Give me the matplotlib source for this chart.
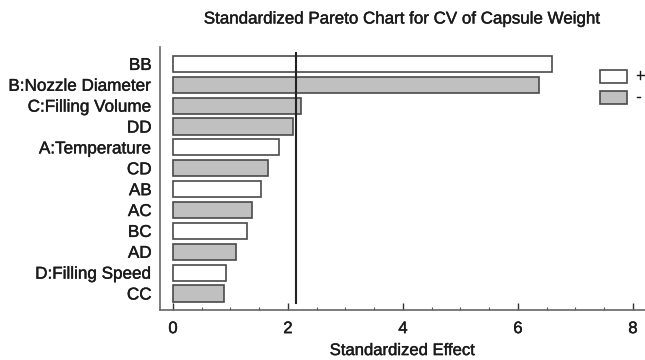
import matplotlib.pyplot as plt
import matplotlib.patheffects as pe
from matplotlib.patches import Rectangle
from matplotlib.ticker import MultipleLocator

plt.rcParams['font.family'] = ['Liberation Sans', 'DejaVu Sans']

# effects listed top to bottom
effects = ['BB', 'B:Nozzle Diameter', 'C:Filling Volume', 'DD', 'A:Temperature',
           'CD', 'AB', 'AC', 'BC', 'AD', 'D:Filling Speed', 'CC']
values = [6.59, 6.37, 2.22, 2.09, 1.85, 1.66, 1.53, 1.37, 1.29, 1.09, 0.93, 0.88]
signs = ['+', '-', '-', '-', '+', '-', '+', '-', '+', '-', '+', '-']
critical = 2.14

POS_COLOR = 'white'
NEG_COLOR = '#c0c0c0'
EDGE = '#4a4a4a'
TEXT = '#1a1a1a'
thick = [pe.withStroke(linewidth=0.3, foreground=TEXT)]

W, H = 645, 360
fig = plt.figure(figsize=(6.45, 3.6), dpi=100)
ax = fig.add_axes([160 / W, 1 - 310 / H, 485 / W, 263 / H])

ypos = list(range(len(effects) - 1, -1, -1))
colors = [POS_COLOR if s == '+' else NEG_COLOR for s in signs]
ax.barh(ypos, values, height=0.77, color=colors, edgecolor=EDGE, linewidth=1.2)
ax.axvline(critical, ymin=0.027, ymax=0.977, color='#222222', linewidth=1.5)

ax.set_xlim(-0.226, 8.21)
ax.set_ylim(-0.79, 11.81)
ax.set_yticks(ypos)
ax.set_yticklabels(effects, fontsize=12.3, color=TEXT)
ax.tick_params(axis='y', length=0, pad=6)

ax.xaxis.set_major_locator(MultipleLocator(2))
ax.xaxis.set_minor_locator(MultipleLocator(0.5))
ax.tick_params(axis='x', which='major', direction='in', length=5, width=1,
               labelsize=12, pad=8, colors='#333333', labelcolor=TEXT)
ax.tick_params(axis='x', which='minor', direction='in', length=2.5, width=0.8,
               colors='#555555')
for lbl in ax.get_xticklabels() + ax.get_yticklabels():
    lbl.set_path_effects(thick)

for side in ['top', 'right']:
    ax.spines[side].set_visible(False)
for side in ['left', 'bottom']:
    ax.spines[side].set_color('#666666')
    ax.spines[side].set_linewidth(1.2)

ax.set_xlabel('Standardized Effect', fontsize=12, color=TEXT, labelpad=5,
              path_effects=thick)
fig.text(402 / W, 1 - 19 / H, 'Standardized Pareto Chart for CV of Capsule Weight',
         ha='center', va='center', fontsize=12.2, color=TEXT, path_effects=thick)

# sign key in the upper right
for (top, sign, color) in [(70, '+', POS_COLOR), (91, '-', NEG_COLOR)]:
    fig.patches.append(Rectangle((600 / W, 1 - (top + 13) / H), 27 / W, 13 / H,
                                 transform=fig.transFigure, facecolor=color,
                                 edgecolor=EDGE, linewidth=1.2))
    fig.text(636 / W, 1 - (top + 6.5) / H, sign, ha='left', va='center',
             fontsize=12, color=TEXT, path_effects=thick)

fig.savefig('out.png', dpi=100)
